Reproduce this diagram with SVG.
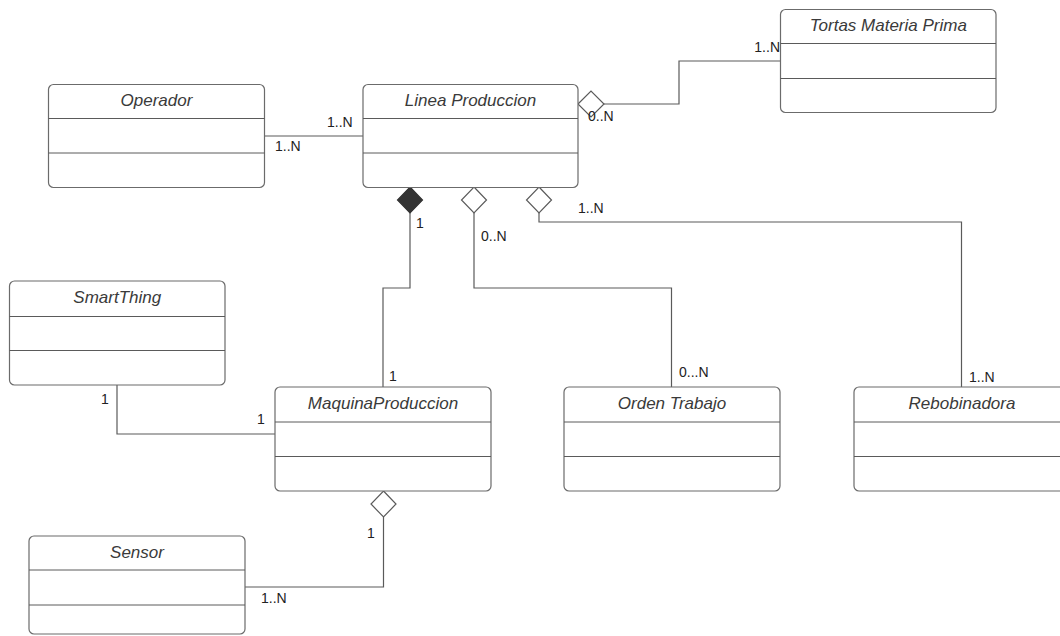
<svg xmlns="http://www.w3.org/2000/svg" width="1060" height="636" viewBox="0 0 1060 636">
<style>
.box{fill:#fff;stroke:#6b6b6b;stroke-width:1.2}
.div{stroke:#5a5a5a;stroke-width:1}
.title{font-family:"Liberation Sans",Arial,sans-serif;font-style:italic;font-size:17px;fill:#3a3a3a;text-anchor:middle}
.lbl{font-family:"Liberation Sans",Arial,sans-serif;font-size:14px;fill:#222}
.con{fill:none;stroke:#5a5a5a;stroke-width:1.2}
.dia{fill:#fff;stroke:#5a5a5a;stroke-width:1.2}
.diaf{fill:#333;stroke:#333;stroke-width:1.2}
</style>
<rect width="1060" height="636" fill="#fff"/>
<g id="connectors">
  <path class="con" d="M265 136 H363"/>
  <path class="con" d="M604 104 H679 V61 H780.5"/>
  <polygon class="dia" points="578,104 591,91 604,104 591,117"/>
  <path class="con" d="M410 213 V288 H383 V387"/>
  <polygon class="diaf" points="410,187 422.5,200 410,213 397.5,200"/>
  <path class="con" d="M474 213 V288 H671.5 V387"/>
  <polygon class="dia" points="474,187 486.5,200 474,213 461.5,200"/>
  <path class="con" d="M539 213 V222 H961.5 V387"/>
  <polygon class="dia" points="539,187 551.5,200 539,213 526.5,200"/>
  <path class="con" d="M117 385 V434 H275"/>
  <path class="con" d="M383.5 517 V587 H245"/>
  <polygon class="dia" points="383.5,491 396,504 383.5,517 371,504"/>
  <text class="lbl" x="327" y="126.5">1..N</text>
  <text class="lbl" x="275" y="151">1..N</text>
  <text class="lbl" x="780" y="52" text-anchor="end">1..N</text>
  <text class="lbl" x="588" y="121">0..N</text>
  <text class="lbl" x="416" y="228">1</text>
  <text class="lbl" x="481" y="241">0..N</text>
  <text class="lbl" x="578" y="213">1..N</text>
  <text class="lbl" x="389" y="381">1</text>
  <text class="lbl" x="679" y="377">0...N</text>
  <text class="lbl" x="969" y="381.5">1..N</text>
  <text class="lbl" x="101" y="404">1</text>
  <text class="lbl" x="257" y="424">1</text>
  <text class="lbl" x="367" y="537.5">1</text>
  <text class="lbl" x="261" y="603">1..N</text>
</g>
<g id="operador">
  <rect class="box" x="48.5" y="84.5" width="216" height="103" rx="5"/>
  <line class="div" x1="48.5" y1="118.5" x2="264.5" y2="118.5"/>
  <line class="div" x1="48.5" y1="153" x2="264.5" y2="153"/>
  <text class="title" x="156.5" y="106">Operador</text>
</g>
<g id="linea-produccion">
  <rect class="box" x="363" y="84.5" width="215" height="103" rx="5"/>
  <line class="div" x1="363" y1="118.5" x2="578" y2="118.5"/>
  <line class="div" x1="363" y1="153" x2="578" y2="153"/>
  <text class="title" x="470.5" y="106">Linea Produccion</text>
</g>
<g id="tortas-materia-prima">
  <rect class="box" x="780.5" y="9.5" width="215.5" height="103" rx="5"/>
  <line class="div" x1="780.5" y1="43.5" x2="996" y2="43.5"/>
  <line class="div" x1="780.5" y1="78.5" x2="996" y2="78.5"/>
  <text class="title" x="888.3" y="31">Tortas Materia Prima</text>
</g>
<g id="smartthing">
  <rect class="box" x="9.5" y="281" width="215.5" height="104" rx="5"/>
  <line class="div" x1="9.5" y1="316.5" x2="225" y2="316.5"/>
  <line class="div" x1="9.5" y1="350.5" x2="225" y2="350.5"/>
  <text class="title" x="117.3" y="302.5">SmartThing</text>
</g>
<g id="maquina-produccion">
  <rect class="box" x="275" y="387" width="216" height="104" rx="5"/>
  <line class="div" x1="275" y1="422" x2="491" y2="422"/>
  <line class="div" x1="275" y1="456.5" x2="491" y2="456.5"/>
  <text class="title" x="383" y="408.5">MaquinaProduccion</text>
</g>
<g id="orden-trabajo">
  <rect class="box" x="564" y="387" width="216" height="104" rx="5"/>
  <line class="div" x1="564" y1="422" x2="780" y2="422"/>
  <line class="div" x1="564" y1="456.5" x2="780" y2="456.5"/>
  <text class="title" x="672" y="408.5">Orden Trabajo</text>
</g>
<g id="rebobinadora">
  <rect class="box" x="854" y="387" width="216" height="104" rx="5"/>
  <line class="div" x1="854" y1="422" x2="1070" y2="422"/>
  <line class="div" x1="854" y1="456.5" x2="1070" y2="456.5"/>
  <text class="title" x="962" y="408.5">Rebobinadora</text>
</g>
<g id="sensor">
  <rect class="box" x="29" y="536" width="216" height="98" rx="5"/>
  <line class="div" x1="29" y1="570" x2="245" y2="570"/>
  <line class="div" x1="29" y1="605" x2="245" y2="605"/>
  <text class="title" x="137" y="557.5">Sensor</text>
</g>
</svg>
